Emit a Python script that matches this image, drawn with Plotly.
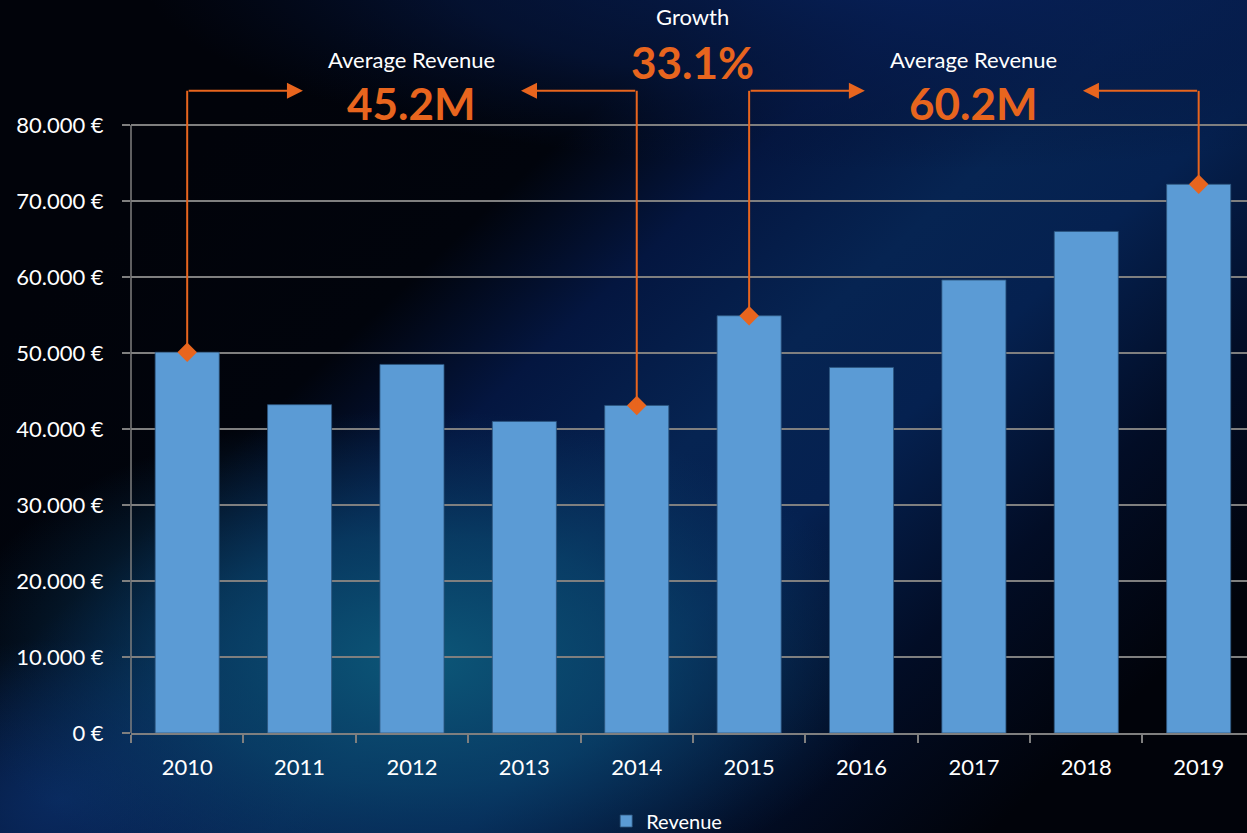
import base64
import plotly.graph_objects as go

# ---------------- data ----------------
years = ["2010", "2011", "2012", "2013", "2014", "2015", "2016", "2017", "2018", "2019"]
revenue = [50100, 43200, 48500, 41000, 43100, 54900, 48100, 59600, 66000, 72200]
y_tickvals = [0, 10000, 20000, 30000, 40000, 50000, 60000, 70000, 80000]
y_ticktext = ["0 €", "10.000 €", "20.000 €", "30.000 €", "40.000 €",
              "50.000 €", "60.000 €", "70.000 €", "80.000 €"]
series_name = "Revenue"

# callouts
group1_years = ["2010", "2014"]
group2_years = ["2015", "2019"]
group1_label, group1_value = "Average Revenue", "45.2M"
group2_label, group2_value = "Average Revenue", "60.2M"
growth_label, growth_value = "Growth", "33.1%"

# ---------------- style ----------------
W, H = 1247, 833
ML, MR, MT, MB = 131, 0, 0, 100
BAR = "#5B9BD5"
ORANGE = "#E8651E"
GRID = "#7F7F7F"
FONT = "Lato"
Y_MAX_VIEW = 96450     # plot area runs to the top of the figure
BRACKET_Y = 84500      # height of the callout brackets (data units)

svg = f'''<svg xmlns="http://www.w3.org/2000/svg" width="{W}" height="{H}" viewBox="0 0 {W} {H}" preserveAspectRatio="none">
<defs>
<linearGradient id="band" gradientUnits="userSpaceOnUse" x1="250" y1="100" x2="1000" y2="900">
<stop offset="0" stop-color="#01030a"/>
<stop offset="0.22" stop-color="#01040c"/>
<stop offset="0.35" stop-color="#041640"/>
<stop offset="0.5" stop-color="#062452"/>
<stop offset="0.62" stop-color="#052150"/>
<stop offset="0.78" stop-color="#020d26"/>
<stop offset="0.95" stop-color="#01030a"/>
</linearGradient>
<radialGradient id="teal">
<stop offset="0" stop-color="#0c5778" stop-opacity="1"/>
<stop offset="0.5" stop-color="#0a4a70" stop-opacity="0.65"/>
<stop offset="1" stop-color="#0a3a66" stop-opacity="0"/>
</radialGradient>
<radialGradient id="top">
<stop offset="0" stop-color="#07215a" stop-opacity="0.95"/>
<stop offset="0.6" stop-color="#061a48" stop-opacity="0.6"/>
<stop offset="1" stop-color="#04143a" stop-opacity="0"/>
</radialGradient>
<radialGradient id="corner">
<stop offset="0" stop-color="#0a2c62" stop-opacity="0.9"/>
<stop offset="1" stop-color="#0a2c62" stop-opacity="0"/>
</radialGradient>
</defs>
<rect x="0" y="0" width="{W}" height="{H}" fill="url(#band)"/>
<ellipse cx="900" cy="-30" rx="760" ry="200" fill="url(#top)"/>
<ellipse cx="60" cy="800" rx="260" ry="160" fill="url(#corner)"/>
<ellipse cx="420" cy="660" rx="470" ry="250" fill="url(#teal)"/>
</svg>'''
bg_src = "data:image/svg+xml;base64," + base64.b64encode(svg.encode()).decode()

pw = W - ML - MR
ph = H - MT - MB

fig = go.Figure()
fig.add_trace(go.Bar(
    x=years, y=revenue, name=series_name, width=0.57,
    marker=dict(color=BAR, line=dict(color="rgba(45,85,125,0.8)", width=1)),
    hoverinfo="x+y",
))

# callout markers on the bars
mark_years = group1_years + group2_years
mark_vals = [revenue[years.index(y)] for y in mark_years]
fig.add_trace(go.Scatter(
    x=mark_years, y=mark_vals, mode="markers", showlegend=False,
    marker=dict(symbol="diamond", size=15, color=ORANGE),
    hoverinfo="skip",
))

shapes = []
annotations = []


def bracket(y_from, y_to, label_idx, label, value):
    for yr, side in ((y_from, -1), (y_to, 1)):
        i = years.index(yr)
        v = revenue[i]
        shapes.append(dict(type="line", xref="x", yref="y", x0=i, x1=i, y0=v, y1=BRACKET_Y,
                           line=dict(color=ORANGE, width=2), layer="above"))
        tip = label_idx + side * 0.97
        annotations.append(dict(xref="x", yref="y", x=tip, y=BRACKET_Y, axref="x", ayref="y",
                                ax=i, ay=BRACKET_Y, text="", showarrow=True, arrowhead=2,
                                arrowsize=1.6, arrowwidth=2, arrowcolor=ORANGE, standoff=0,
                                startstandoff=0))
    annotations.append(dict(xref="x", yref="paper", x=label_idx, y=(ph - 60) / ph, text=label,
                            showarrow=False, font=dict(family=FONT, size=22, color="white"),
                            yanchor="middle"))
    annotations.append(dict(xref="x", yref="paper", x=label_idx, y=(ph - 103) / ph, text=value,
                            showarrow=False, font=dict(family=FONT, size=44, color=ORANGE,
                                                       weight="bold"),
                            yanchor="middle"))


i1a, i1b = years.index(group1_years[0]), years.index(group1_years[1])
i2a, i2b = years.index(group2_years[0]), years.index(group2_years[1])
bracket(group1_years[0], group1_years[1], (i1a + i1b) / 2, group1_label, group1_value)
bracket(group2_years[0], group2_years[1], (i2a + i2b) / 2, group2_label, group2_value)

mid = (i1b + i2a) / 2
annotations.append(dict(xref="x", yref="paper", x=mid, y=(ph - 17) / ph, text=growth_label,
                        showarrow=False, font=dict(family=FONT, size=22, color="white"),
                        yanchor="middle"))
annotations.append(dict(xref="x", yref="paper", x=mid, y=(ph - 62) / ph, text=growth_value,
                        showarrow=False, font=dict(family=FONT, size=44, color=ORANGE,
                                                   weight="bold"),
                        yanchor="middle"))

# y axis line (stops at the top gridline)
shapes.append(dict(type="line", xref="paper", yref="y", x0=0, x1=0, y0=y_tickvals[0],
                   y1=y_tickvals[-1], line=dict(color=GRID, width=1.5), layer="above"))

fig.update_layout(
    width=W, height=H,
    margin=dict(l=ML, r=MR, t=MT, b=MB, pad=0, autoexpand=False),
    paper_bgcolor="#01030a",
    plot_bgcolor="rgba(0,0,0,0)",
    font=dict(family=FONT, color="white", size=20),
    bargap=0.43,
    shapes=shapes,
    annotations=annotations,
    images=[dict(source=bg_src, xref="paper", yref="paper", x=-ML / pw, y=1 + MT / ph,
                 sizex=W / pw, sizey=H / ph, xanchor="left", yanchor="top",
                 sizing="stretch", layer="below")],
    showlegend=True,
    legend=dict(orientation="h", x=0.48, xanchor="center", y=-(821 - ph) / ph,
                yanchor="middle", font=dict(family=FONT, size=20, color="white"),
                bgcolor="rgba(0,0,0,0)", itemclick=False),
    xaxis=dict(type="category", range=[-0.5, 9.43], showline=True, linecolor=GRID,
               linewidth=1.5, ticks="outside", tickson="boundaries", ticklen=8,
               tickcolor=GRID, tickwidth=1.5, showgrid=False,
               tickfont=dict(family=FONT, size=22, color="white"), ticklabelstandoff=14),
    yaxis=dict(range=[0, Y_MAX_VIEW], tickmode="array", tickvals=y_tickvals,
               ticktext=y_ticktext, showgrid=True, gridcolor=GRID, gridwidth=1.5,
               zeroline=False, showline=False, ticks="outside", ticklen=8, tickcolor=GRID,
               tickwidth=1.5, tickfont=dict(family=FONT, size=22, color="white"),
               ticklabelstandoff=14),
)

fig.write_html(
    "out.html",
    config={"displayModeBar": False, "responsive": False},
    post_script=(
        "document.documentElement.style.margin='0';"
        "document.body.style.margin='0';document.body.style.padding='0';"
        "document.body.style.overflow='hidden';document.body.style.background='#01030a';"
    ),
)
